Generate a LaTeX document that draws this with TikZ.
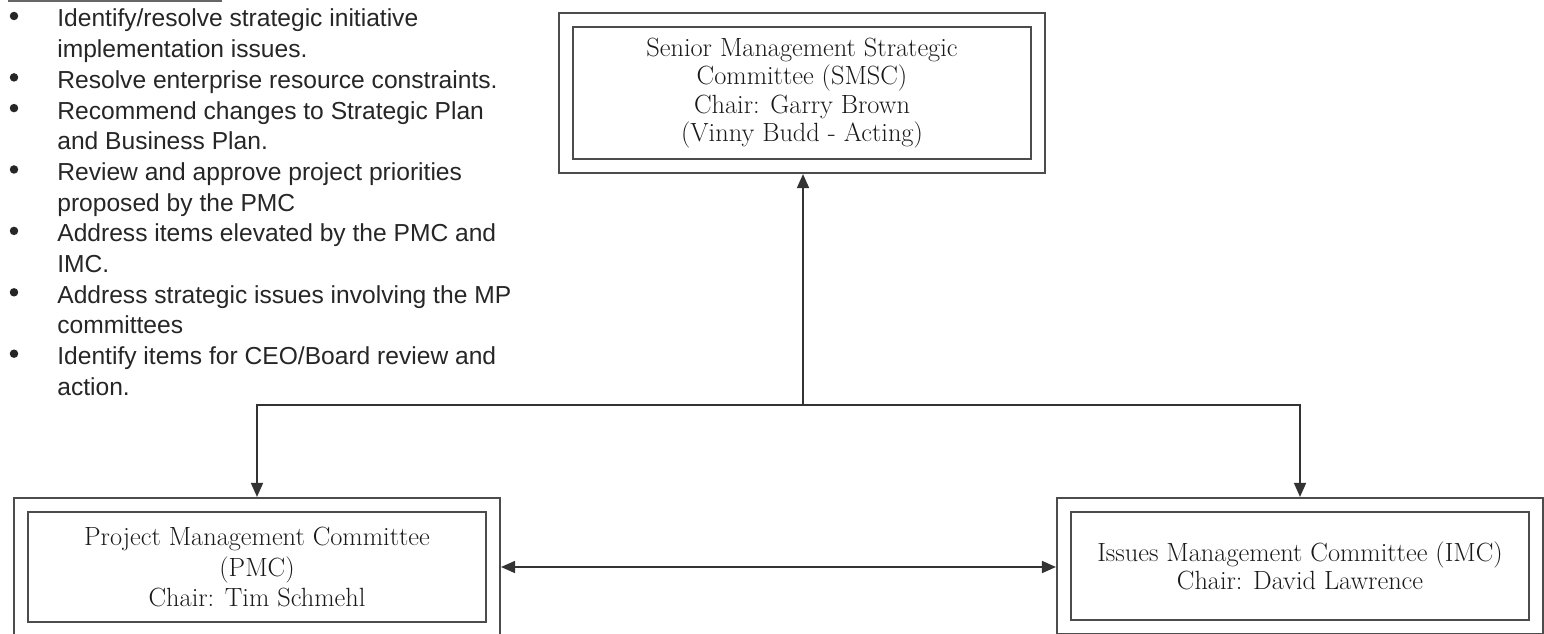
\documentclass[tikz,border=0pt]{standalone}
\usepackage{fontspec}
\newfontfamily\listfont{Liberation Sans}
\usetikzlibrary{arrows.meta,positioning,fit}

\begin{document}
\begin{tikzpicture}
	% Styles
	[
	x=0.02cm, y=-0.02cm,
	committee/.style={draw=black!70, line width=0.9pt, minimum width=9.16cm, align=center, text=black!90, font=\fontsize{15}{16.1}\selectfont},
	frame/.style={draw=black!70, line width=0.9pt, inner sep=0.27cm},
	listline/.style={anchor=base west, inner sep=0pt, text=black!85, font=\listfont\fontsize{14}{17}\selectfont},
	bulletmark/.style={circle, fill=black!85, inner sep=0pt, minimum size=0.17cm},
	link/.style={draw=black!80, line width=0.9pt, -{Triangle[length=0.28cm,width=0.24cm]}},
	dlink/.style={draw=black!80, line width=0.9pt, {Triangle[length=0.28cm,width=0.24cm]}-{Triangle[length=0.28cm,width=0.24cm]}},
	]
	\useasboundingbox (0,0) rectangle (1544,634);

	% Duty list
	\draw[black!60, line width=0.8pt] (8,1) -- (222,1);
	\foreach \txt [count=\k from 0] in {
		{Identify/resolve strategic initiative}, {implementation issues.},
		{Resolve enterprise resource constraints.},
		{Recommend changes to Strategic Plan}, {and Business Plan.},
		{Review and approve project priorities}, {proposed by the PMC},
		{Address items elevated by the PMC and}, {IMC.},
		{Address strategic issues involving the MP}, {committees},
		{Identify items for CEO/Board review and}, {action.}}
		\node[listline] (line\k) at (57, 27+30.7*\k) {\txt};
	\foreach \k in {0,2,3,5,7,9,11}
		\node[bulletmark] at (14, 16+30.7*\k) {};

	% Committees
	\node[committee, minimum height=2.64cm] at (802,93) (smsc)
		{Senior Management Strategic\\Committee (SMSC)\\Chair: Garry Brown\\(Vinny Budd - Acting)};
	\node[committee, minimum height=2.2cm, font=\fontsize{15}{17.6}\selectfont] at (257,567) (pmc)
		{Project Management Committee\\(PMC)\\Chair: Tim Schmehl};
	\node[committee, minimum height=2.16cm] at (1300,566) (imc)
		{Issues Management Committee (IMC)\\Chair: David Lawrence};
	\node[frame, fit=(smsc)] (smsc-frame) {};
	\node[frame, fit=(pmc)] (pmc-frame) {};
	\node[frame, fit=(imc)] (imc-frame) {};

	% Connections
	\coordinate (hub) at (803,405);
	\draw[link] (hub) -- (hub |- smsc-frame.south);
	\draw[link] (hub) -| (pmc-frame.north);
	\draw[link] (hub) -| (imc-frame.north);
	\draw[dlink] (pmc-frame.east) -- (pmc-frame.east -| imc-frame.west);

\end{tikzpicture}
\end{document}
